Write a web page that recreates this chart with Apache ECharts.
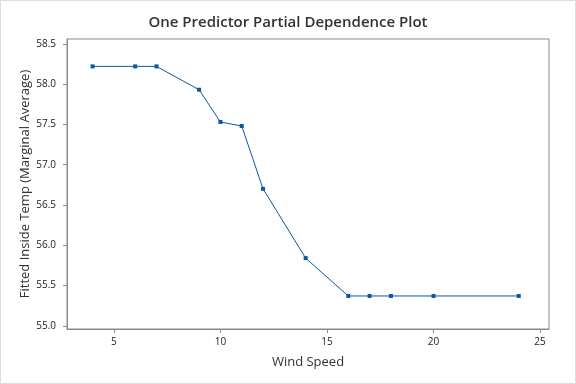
<!DOCTYPE html>
<html><head><meta charset="utf-8">
<script src="https://cdn.jsdelivr.net/npm/echarts@6/dist/echarts.min.js"></script>
<style>html,body{margin:0;padding:0;background:#fff}#c{width:574px;height:382px;border:1px solid #dcdcdc}</style>
</head><body><div id="c"></div>
<script>
const windSpeed = [4, 6, 7, 9, 10, 11, 12, 14, 16, 17, 18, 20, 24];
const fittedTemp = [58.22, 58.22, 58.22, 57.93, 57.53, 57.48, 56.70, 55.84, 55.37, 55.37, 55.37, 55.37, 55.37];
const xTicks = [5, 10, 15, 20, 25];
const yTicks = [55.0, 55.5, 56.0, 56.5, 57.0, 57.5, 58.0, 58.5];
const font = '"Open Sans", "Noto Sans", sans-serif';
const chart = echarts.init(document.getElementById('c'));
chart.setOption({
  animation: false,
  title: {text: 'One Predictor Partial Dependence Plot', left: 'center', top: 9,
    textStyle: {fontFamily: font, fontSize: 15, fontWeight: 600, color: '#333'}},
  grid: {left: 66, right: 26, top: 38, bottom: 54, show: true, borderColor: '#8a8a8a', borderWidth: 1},
  xAxis: {type: 'value', min: 2.8, max: 25.42, name: 'Wind Speed', nameLocation: 'middle', nameGap: 27,
    nameMoveOverlap: false,
    nameTextStyle: {fontFamily: font, fontSize: 13, color: '#333'},
    axisLine: {show: true, lineStyle: {color: '#8a8a8a'}},
    axisTick: {show: true, length: 4, customValues: xTicks, lineStyle: {color: '#8a8a8a'}},
    axisLabel: {customValues: xTicks, fontFamily: font, fontSize: 10, color: '#222', margin: 8},
    splitLine: {show: false}},
  yAxis: {type: 'value', min: 54.96, max: 58.56, name: 'Fitted Inside Temp (Marginal Average)', nameLocation: 'middle', nameGap: 35,
    nameMoveOverlap: false,
    nameTextStyle: {fontFamily: font, fontSize: 13, color: '#333'},
    axisLine: {show: true, lineStyle: {color: '#8a8a8a'}},
    axisTick: {show: true, length: 4, customValues: yTicks, lineStyle: {color: '#8a8a8a'}},
    axisLabel: {customValues: yTicks, formatter: v => v.toFixed(1), fontFamily: font, fontSize: 10, color: '#222', margin: 11},
    splitLine: {show: false}},
  series: [{type: 'line', data: windSpeed.map((x, i) => [x, fittedTemp[i]]),
    symbol: 'rect', symbolSize: 4, showAllSymbol: true,
    lineStyle: {color: '#0B57A4', width: 1}, itemStyle: {color: '#0B57A4'}}]
});
</script></body></html>
